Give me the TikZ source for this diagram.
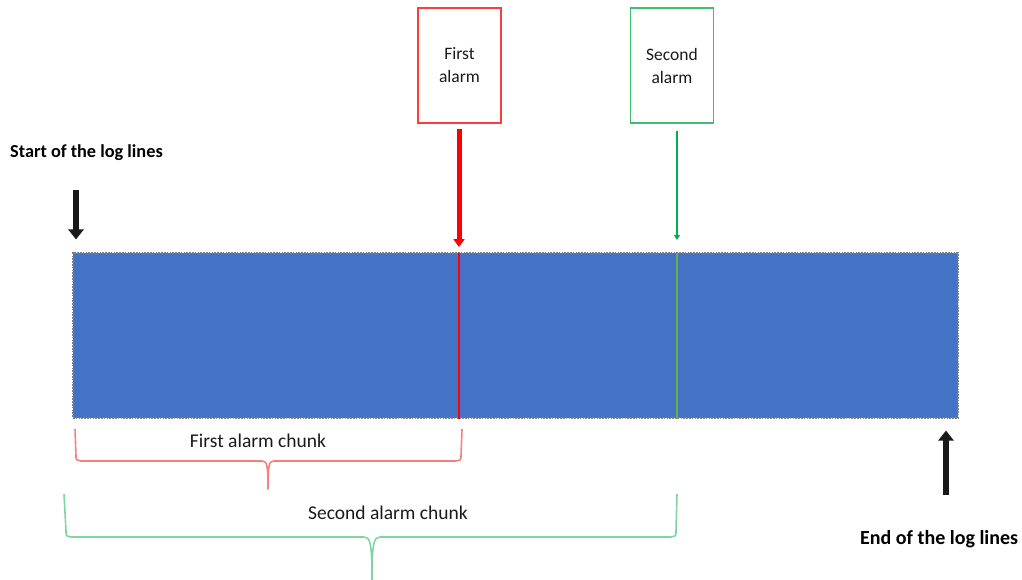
\documentclass[tikz,border=0pt]{standalone}
\usepackage{fontspec}
\setmainfont{Carlito}
\usetikzlibrary{arrows.meta,calc}
\definecolor{barblue}{HTML}{4472C4}
\definecolor{barline}{HTML}{7A7F8A}
\definecolor{alarmred}{HTML}{FF0000}
\definecolor{boxred}{HTML}{FF3B3B}
\definecolor{boxgreen}{HTML}{3CBF6E}
\definecolor{arrowgreen}{HTML}{00B050}
\definecolor{markgreen}{HTML}{70AD47}
\definecolor{bracered}{HTML}{FF7C7C}
\definecolor{bracegreen}{HTML}{7ED6A0}
\definecolor{inktext}{HTML}{1A1A1A}
\tikzset{
  logbar/.style={fill=barblue, draw=barline, line width=1.1pt,
    dash pattern=on 1.6pt off 1.2pt, minimum width=885pt, minimum height=165pt,
    inner sep=0pt},
  alarmbox/.style={line width=1.4pt, fill=white, minimum width=83pt,
    minimum height=115pt, inner sep=0pt, align=center,
    font=\fontsize{17.5}{23}\selectfont, text=inktext},
  endlabel/.style={font=\bfseries, text=black, inner sep=0pt},
  chunklabel/.style={font=\fontsize{19.5}{22}\selectfont, text=inktext, inner sep=0pt},
  blackarrow/.style={line width=5.5pt, -{Triangle[width=15pt,length=10pt]}, draw=black!90},
  redarrow/.style={line width=5pt, -{Triangle[width=11pt,length=8pt]}, draw=alarmred},
  greenarrow/.style={line width=2.4pt, -{Triangle[width=6pt,length=5pt]}, draw=arrowgreen},
  bracestroke/.style={line width=1.6pt, line join=round}
}
\begin{document}
\begin{tikzpicture}[x=1pt,y=-1pt]
\useasboundingbox (0,0) rectangle (1022,579);

% the log bar
\node[logbar] (bar) at (515.5,335.5) {};

% alarm boxes
\node[alarmbox, draw=boxred] (fa) at (459.5,65.5) {First\\alarm};
\node[alarmbox, draw=boxgreen] (sa) at (672,65.5) {Second\\alarm};

% alarm positions on the bar
\coordinate (m1) at (459,253);
\coordinate (m2) at (677,253);
\draw[alarmred, line width=2.6pt] (m1) -- (m1 |- bar.south);
\draw[markgreen, line width=2pt] (m2) -- (m2 |- bar.south);

% arrows from the alarm boxes
\draw[redarrow, shorten <=5pt, shorten >=6pt] (fa.south -| m1) -- (m1);
\draw[greenarrow, shorten <=7pt, shorten >=13pt] (sa.south -| m2) -- (m2);

% start / end of the log lines
\node[endlabel, anchor=west, font=\fontsize{18.3}{22}\selectfont\bfseries] (start) at (10,153) {Start of the log lines};
\node[endlabel, anchor=west, font=\fontsize{20}{22}\selectfont\bfseries] (end) at (860,539) {End of the log lines};
\coordinate (s0) at (76,190);
\coordinate (e0) at (946,495);
\draw[blackarrow, shorten >=13pt] (s0) -- (s0 |- bar.north);
\draw[blackarrow, shorten >=12pt] (e0) -- (e0 |- bar.south);

% first alarm chunk brace
\draw[bracestroke, draw=bracered]
  (75,429) -- (76,456) .. controls (76,460) .. (81,461)
  -- (262,461) .. controls (267,461) and (268,465) .. (268,489)
  .. controls (268,465) and (269,461) .. (274,461)
  -- (456,461) .. controls (461,460) .. (461,456) -- (462,429);
\node[chunklabel] (c1) at (258,441) {First alarm chunk};

% second alarm chunk brace
\draw[bracestroke, draw=bracegreen]
  (64,494) -- (66,531) .. controls (66,536) .. (71,537)
  -- (364,537) .. controls (370,537) and (372,542) .. (372,580)
  .. controls (372,542) and (374,537) .. (380,537)
  -- (671,537) .. controls (676,536) .. (676,531) -- (677,494);
\node[chunklabel] (c2) at (388,513) {Second alarm chunk};
\end{tikzpicture}
\end{document}
